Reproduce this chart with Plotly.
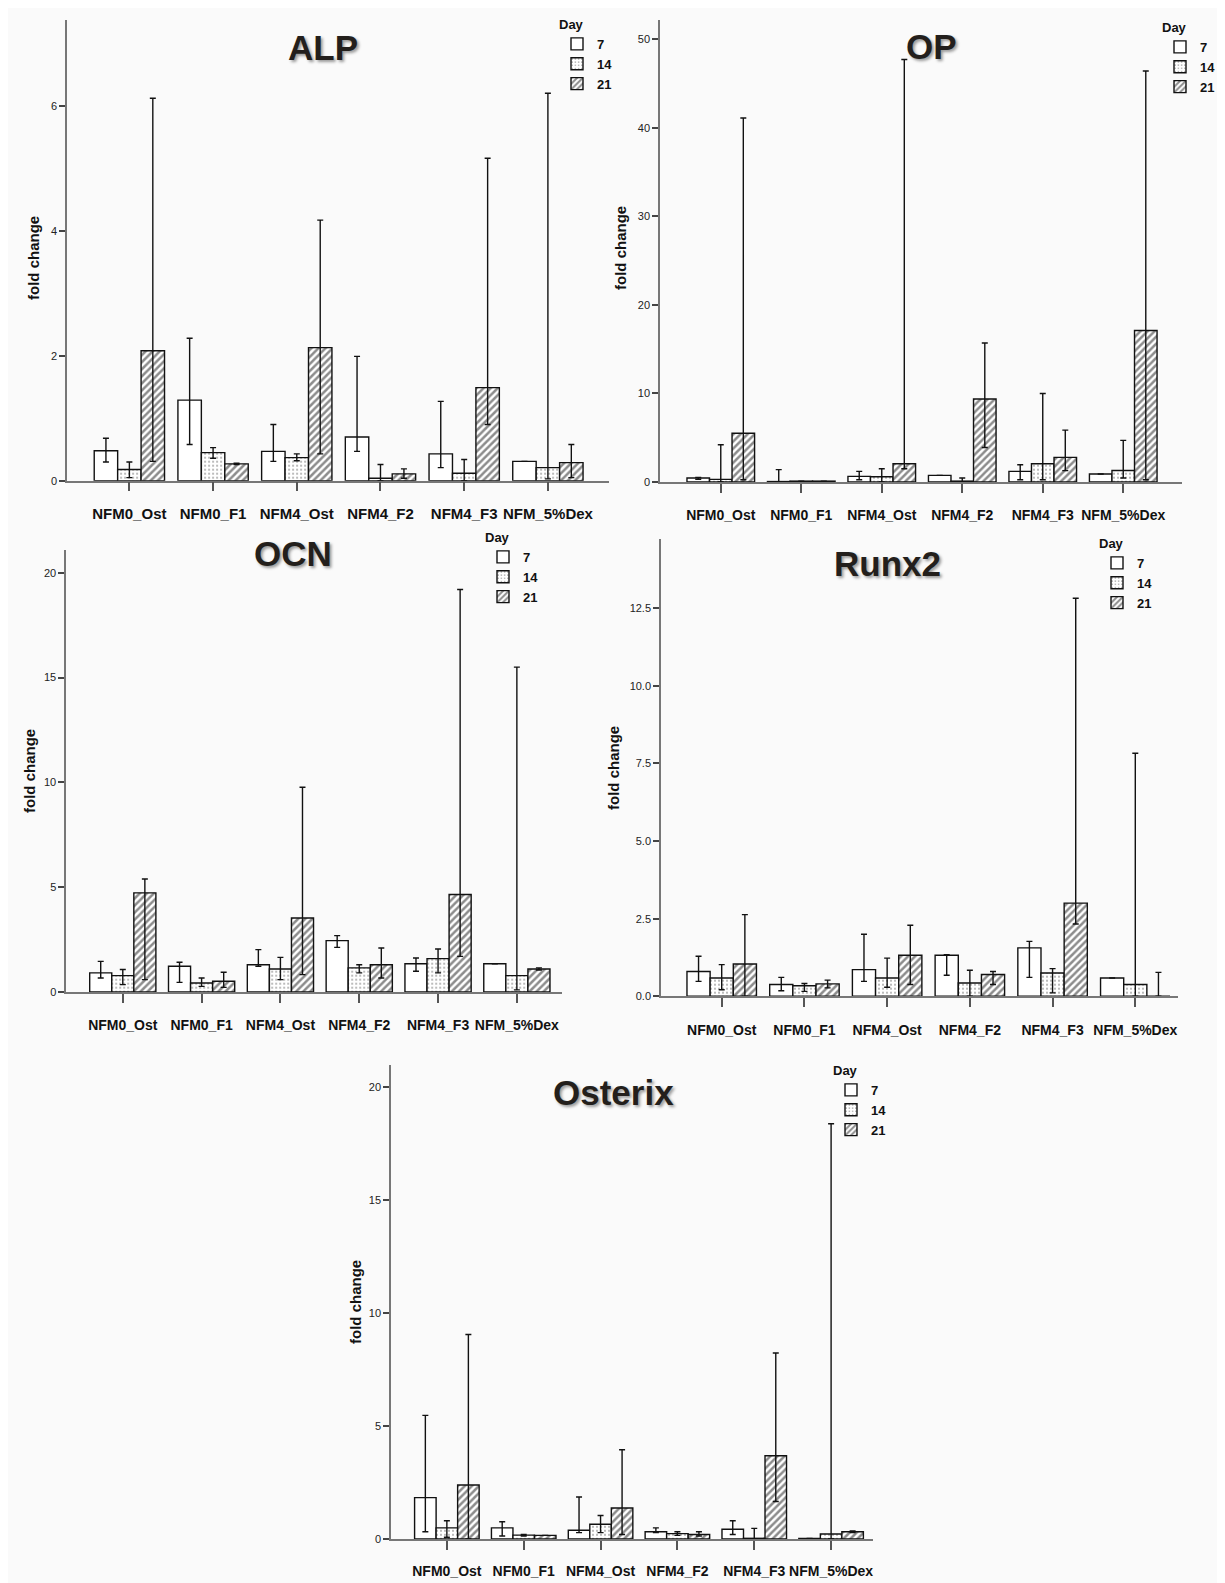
import plotly.graph_objects as go

W, H = 1225, 1583

categories = ["NFM0_Ost", "NFM0_F1", "NFM4_Ost", "NFM4_F2", "NFM4_F3", "NFM_5%Dex"]
days = ["7", "14", "21"]

# ---- ALP ----
ALP_d7 = [0.48, 1.29, 0.47, 0.70, 0.43, 0.31]
ALP_d7_lo = [0.30, 0.58, 0.31, 0.47, 0.21, None]
ALP_d7_hi = [0.68, 2.28, 0.90, 1.99, 1.27, None]
ALP_d14 = [0.18, 0.45, 0.37, 0.04, 0.12, 0.21]
ALP_d14_lo = [0.05, 0.36, 0.32, 0.0, 0.0, 0.03]
ALP_d14_hi = [0.30, 0.53, 0.43, 0.26, 0.34, 6.20]
ALP_d21 = [2.08, 0.27, 2.13, 0.11, 1.49, 0.29]
ALP_d21_lo = [0.31, 0.26, 0.43, 0.04, 0.90, 0.05]
ALP_d21_hi = [6.12, 0.28, 4.17, 0.19, 5.16, 0.58]

# ---- OP ----
OP_d7 = [0.45, 0.05, 0.64, 0.75, 1.20, 0.90]
OP_d7_lo = [0.30, 0.0, 0.26, None, 0.26, None]
OP_d7_hi = [0.50, 1.40, 1.20, None, 1.95, None]
OP_d14 = [0.30, 0.10, 0.60, 0.10, 2.06, 1.30]
OP_d14_lo = [0.0, None, 0.0, 0.0, 0.26, 0.45]
OP_d14_hi = [4.20, None, 1.50, 0.45, 10.0, 4.70]
OP_d21 = [5.50, 0.10, 2.06, 9.38, 2.78, 17.1]
OP_d21_lo = [0.26, None, 1.50, 3.90, 1.28, 0.26]
OP_d21_hi = [41.1, None, 47.7, 15.7, 5.86, 46.4]

# ---- OCN ----
OCN_d7 = [0.91, 1.23, 1.30, 2.45, 1.35, 1.35]
OCN_d7_lo = [0.67, 0.46, 1.23, 2.13, 0.99, None]
OCN_d7_hi = [1.46, 1.42, 2.02, 2.69, 1.62, None]
OCN_d14 = [0.78, 0.43, 1.10, 1.15, 1.59, 0.78]
OCN_d14_lo = [0.35, 0.27, 0.59, 0.91, 0.91, 0.10]
OCN_d14_hi = [1.07, 0.67, 1.65, 1.30, 2.05, 15.5]
OCN_d21 = [4.73, 0.51, 3.53, 1.30, 4.65, 1.10]
OCN_d21_lo = [0.59, 0.22, 0.83, 0.67, 1.70, 1.05]
OCN_d21_hi = [5.39, 0.94, 9.77, 2.10, 19.2, 1.15]

# ---- Runx2 ----
RUNX2_d7 = [0.80, 0.38, 0.86, 1.32, 1.56, 0.59]
RUNX2_d7_lo = [0.48, 0.18, 0.48, 0.68, 0.61, None]
RUNX2_d7_hi = [1.29, 0.61, 2.00, 1.34, 1.77, None]
RUNX2_d14 = [0.59, 0.34, 0.59, 0.43, 0.75, 0.38]
RUNX2_d14_lo = [0.21, 0.16, 0.29, 0.0, 0.11, 0.0]
RUNX2_d14_hi = [1.02, 0.41, 1.23, 0.84, 0.89, 7.83]
RUNX2_d21 = [1.04, 0.40, 1.32, 0.70, 3.00, 0.0]
RUNX2_d21_lo = [0.0, 0.27, 0.38, 0.38, 2.33, 0.0]
RUNX2_d21_hi = [2.63, 0.52, 2.29, 0.80, 12.82, 0.77]

# ---- Osterix ----
OSX_d7 = [1.83, 0.49, 0.39, 0.32, 0.43, 0.02]
OSX_d7_lo = [0.32, 0.13, 0.28, 0.28, 0.20, None]
OSX_d7_hi = [5.47, 0.76, 1.86, 0.49, 0.81, None]
OSX_d14 = [0.49, 0.17, 0.65, 0.24, 0.03, 0.22]
OSX_d14_lo = [0.08, 0.13, 0.28, 0.16, 0.0, 0.0]
OSX_d14_hi = [0.81, 0.20, 1.04, 0.32, 0.47, 18.37]
OSX_d21 = [2.39, 0.16, 1.37, 0.20, 3.68, 0.32]
OSX_d21_lo = [0.0, None, 0.20, 0.13, 1.66, 0.28]
OSX_d21_hi = [9.05, None, 3.95, 0.32, 8.23, 0.36]

panels = [
    dict(title="ALP", data=[(ALP_d7, ALP_d7_lo, ALP_d7_hi), (ALP_d14, ALP_d14_lo, ALP_d14_hi), (ALP_d21, ALP_d21_lo, ALP_d21_hi)],
         px=(59.1, 601), py=(11.7, 472.7), yr=7.376, xr=(-0.744, 5.73), dtick=2, fmt="", std=10, xfs=15,
         tpos=(315, 40), ypos=(25, 250), leg=(549, 4)),
    dict(title="OP", data=[(OP_d7, OP_d7_lo, OP_d7_hi), (OP_d14, OP_d14_lo, OP_d14_hi), (OP_d21, OP_d21_lo, OP_d21_hi)],
         px=(652, 1174), py=(11.7, 474), yr=52.2, xr=(-0.755, 5.73), dtick=10, fmt="", std=10, xfs=14,
         tpos=(923, 39), ypos=(612, 240), leg=(1152, 7)),
    dict(title="OCN", data=[(OCN_d7, OCN_d7_lo, OCN_d7_hi), (OCN_d14, OCN_d14_lo, OCN_d14_hi), (OCN_d21, OCN_d21_lo, OCN_d21_hi)],
         px=(58.2, 553.8), py=(541.7, 984), yr=21.1, xr=(-0.718, 5.57), dtick=5, fmt="", std=10, xfs=14,
         tpos=(285, 545), ypos=(21, 763), leg=(475, 517)),
    dict(title="Runx2", data=[(RUNX2_d7, RUNX2_d7_lo, RUNX2_d7_hi), (RUNX2_d14, RUNX2_d14_lo, RUNX2_d14_hi), (RUNX2_d21, RUNX2_d21_lo, RUNX2_d21_hi)],
         px=(653, 1170.3), py=(530.7, 988.3), yr=14.74, xr=(-0.734, 5.52), dtick=2.5, fmt=".1f", std=11, xfs=14,
         tpos=(879, 555), ypos=(605, 760), leg=(1089, 523)),
    dict(title="Osterix", data=[(OSX_d7, OSX_d7_lo, OSX_d7_hi), (OSX_d14, OSX_d14_lo, OSX_d14_hi), (OSX_d21, OSX_d21_lo, OSX_d21_hi)],
         px=(383, 864.6), py=(1056.8, 1531), yr=20.98, xr=(-0.727, 5.54), dtick=5, fmt="", std=9, xfs=14,
         tpos=(605, 1084), ypos=(347, 1294), leg=(823, 1050)),
]

styles = [
    dict(color="white"),
    dict(color="white", pattern=dict(shape=".", size=4, solidity=0.22, fgcolor="#555", bgcolor="white")),
    dict(color="white", pattern=dict(shape="/", size=5, solidity=0.5, fgcolor="#1a1a1a", bgcolor="white")),
]


def err(mean, lo, hi):
    up, dn = [], []
    for m, l, h in zip(mean, lo, hi):
        up.append(None if h is None else max(h - m, 0))
        dn.append(None if l is None else max(m - l, 0))
    return up, dn


fig = go.Figure()
layout = dict(
    width=W, height=H,
    margin=dict(l=0, r=0, t=0, b=0, autoexpand=False),
    paper_bgcolor="#fafafa", plot_bgcolor="#fafafa",
    barmode="group", bargap=0.16, bargroupgap=0,
    font=dict(family="Liberation Sans, Arial, sans-serif", color="#111"),
    annotations=[],
)

for i, p in enumerate(panels):
    k = i + 1
    xa = "x" if k == 1 else f"x{k}"
    ya = "y" if k == 1 else f"y{k}"
    lg = "legend" if k == 1 else f"legend{k}"
    for j, (mean, lo, hi) in enumerate(p["data"]):
        up, dn = err(mean, lo, hi)
        st = styles[j]
        marker = dict(color=st["color"], line=dict(color="#111", width=1.4))
        if "pattern" in st:
            marker["pattern"] = st["pattern"]
        fig.add_trace(go.Bar(
            x=categories, y=mean, name=days[j], xaxis=xa, yaxis=ya, legend=lg,
            marker=marker,
            error_y=dict(type="data", symmetric=False, array=up, arrayminus=dn,
                         color="#111", thickness=1.4, width=3),
        ))
    x0, x1 = p["px"]
    ytop, ybot = p["py"]
    xd = [x0 / W, x1 / W]
    yd = [1 - ybot / H, 1 - ytop / H]
    xkey = "xaxis" if k == 1 else f"xaxis{k}"
    ykey = "yaxis" if k == 1 else f"yaxis{k}"
    layout[xkey] = dict(
        domain=xd, anchor=ya, type="category", range=list(p["xr"]),
        showline=True, linecolor="#777", linewidth=1.5, mirror=False,
        ticks="outside", ticklen=9, tickwidth=1.5, tickcolor="#555",
        ticklabelstandoff=p["std"], tickangle=0,
        tickfont=dict(size=p["xfs"], weight="bold", color="#111"),
        showgrid=False, zeroline=False, fixedrange=True,
    )
    layout[ykey] = dict(
        domain=yd, anchor=xa, range=[0, p["yr"]], dtick=p["dtick"], tick0=0,
        tickformat=p["fmt"],
        showline=True, linecolor="#777", linewidth=1.5,
        ticks="outside", ticklen=6, tickwidth=1.5, tickcolor="#444",
        tickfont=dict(size=11, color="#222"),
        showgrid=False, zeroline=False, fixedrange=True,
    )
    lx, lyt = p["leg"]
    layout[lg] = dict(
        x=lx / W, y=1 - lyt / H, xanchor="left", yanchor="top",
        bgcolor="rgba(0,0,0,0)", borderwidth=0,
        title=dict(text="Day", font=dict(size=13, weight="bold", color="#111")),
        font=dict(size=13, weight="bold", color="#111"),
        itemwidth=30, tracegroupgap=0,
    )
    tx, ty = p["tpos"]
    layout["annotations"].append(dict(
        text=p["title"], x=tx / W, y=1 - ty / H, xref="paper", yref="paper",
        xanchor="center", yanchor="middle", showarrow=False,
        font=dict(size=35, weight="bold", color="#231f1c", shadow="2px 2px 3px #9a9a9a"),
    ))
    yx, yy = p["ypos"]
    layout["annotations"].append(dict(
        text="fold change", x=yx / W, y=1 - yy / H, xref="paper", yref="paper",
        xanchor="center", yanchor="middle", showarrow=False, textangle=-90,
        font=dict(size=15, weight="bold", color="#111"),
    ))

fig.update_layout(**layout)
fig.write_html("out.html")
